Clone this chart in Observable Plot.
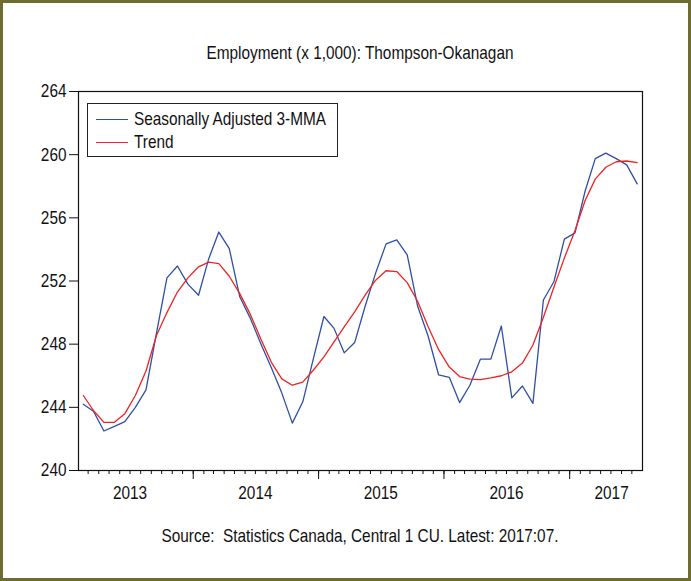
<!DOCTYPE html>
<html>
<head>
<meta charset="utf-8">
<script src="https://cdn.jsdelivr.net/npm/d3@7"></script>
<script src="https://cdn.jsdelivr.net/npm/@observablehq/plot@0.6"></script>
<style>
  html, body { margin: 0; padding: 0; background: #fff; }
  #wrap { position: relative; width: 691px; height: 581px; background: #fff; overflow: hidden;
          font-family: "Liberation Sans", Arial, sans-serif; color: #111; }
  #border { position: absolute; left: 0; top: 0; width: 691px; height: 581px; box-sizing: border-box;
            border: 3px solid #6e6c31; pointer-events: none; }
  #title, #caption { position: absolute; left: 78px; width: 564px; text-align: center; font-size: 18.5px; line-height: 22px;
                     white-space: nowrap; transform: scaleX(0.83); transform-origin: 50% 50%; }
  #title { top: 42px; }
  #caption { top: 525px; }
  #chart { position: absolute; left: 0; top: 70px; }
  #legend { position: absolute; left: 87px; top: 103px; width: 251px; height: 54px; box-sizing: border-box;
            border: 1px solid #222; background: #fff; }
  .item { position: absolute; left: 0; height: 22px; font-size: 18.5px; line-height: 22px; white-space: nowrap; }
  .swatch { position: absolute; left: 8px; width: 32px; height: 0; border-top: 1.3px solid; }
  .label { position: absolute; left: 46px; top: 0; transform: scaleX(0.83); transform-origin: 0 50%; }
</style>
</head>
<body>
<div id="wrap">
  <div id="title">Employment (x 1,000): Thompson-Okanagan</div>
  <div id="chart"></div>
  <div id="legend"></div>
  <div id="caption">Source:&nbsp; Statistics Canada, Central 1 CU. Latest: 2017:07.</div>
  <div id="border"></div>
</div>
<script>
// ---- data (monthly, 2013:02 to 2017:07) ----
const firstMonth = "2013-02-01";
const endMonth = "2017-08-01";
const seasonallyAdjusted3MMA = [
  244.2, 243.75, 242.5, 242.8, 243.1, 244.0, 245.1, 248.7, 252.2, 252.95, 251.8,
  251.1, 253.4, 255.1, 254.05, 251.0, 249.65, 248.05, 246.5, 244.9, 243.0, 244.35,
  247.05, 249.75, 249.0, 247.45, 248.1, 250.4, 252.5, 254.35, 254.6, 253.65, 250.4,
  248.5, 246.05, 245.9, 244.3, 245.4, 247.05, 247.05, 249.15, 244.6, 245.35, 244.25,
  250.8, 251.95, 254.65, 255.05, 257.7, 259.75, 260.1, 259.75, 259.35, 258.15
];
const trend = [
  244.75, 243.8, 243.05, 243.05, 243.6, 244.75, 246.3, 248.55, 250.0, 251.3, 252.2,
  252.9, 253.2, 253.1, 252.3, 251.2, 249.9, 248.35, 246.85, 245.8, 245.4, 245.6,
  246.35, 247.2, 248.15, 249.1, 250.05, 251.1, 252.05, 252.65, 252.6, 251.9, 250.7,
  249.1, 247.65, 246.55, 245.95, 245.78, 245.76, 245.87, 246.0, 246.25, 246.8, 247.95,
  249.7, 251.6, 253.45, 255.2, 257.1, 258.45, 259.2, 259.55, 259.6, 259.5
];
const yTicks = [240, 244, 248, 252, 256, 260, 264];
const yearLabels = ["2013", "2014", "2015", "2016", "2017"];
const yearLabelDates = ["2013-07-01", "2014-07-01", "2015-07-01", "2016-07-01", "2017-05-03"];
const seriesNames = ["Seasonally Adjusted 3-MMA", "Trend"];
const seriesColors = ["#2f4fa6", "#ee2424"];

// ---- build tables ----
const start = new Date(firstMonth + "T00:00:00Z");
const end = new Date(endMonth + "T00:00:00Z");
const months = d3.utcMonth.range(start, end);
const mid = m => new Date((+m + +d3.utcMonth.offset(m, 1)) / 2);
const rows = months.map((m, i) => ({date: mid(m), sa: seasonallyAdjusted3MMA[i], trend: trend[i]}));
const years = months.filter(m => m.getUTCMonth() === 0);
const labels = yearLabels.map((t, i) => ({t, date: new Date(yearLabelDates[i] + "T00:00:00Z")}));

const FONT = '"Liberation Sans", Arial, sans-serif';
const SQUEEZE = 0.83;

const chart = Plot.plot({
  width: 691,
  height: 440,
  marginLeft: 78,
  marginRight: 49,
  marginTop: 21,
  marginBottom: 40,
  style: {fontFamily: FONT, fontSize: "18.5px", color: "#111", background: "transparent", overflow: "visible"},
  x: {type: "utc", domain: [start, end], axis: null},
  y: {domain: [240, 264], ticks: yTicks, tickSize: 9, tickPadding: 3, label: null, tickFormat: d => String(d)},
  marks: [
    Plot.ruleX(months.slice(1), {x: d => d, y1: 240, y2: 240, insetBottom: -4, stroke: "#111", strokeWidth: 1}),
    Plot.ruleX(years, {x: d => d, y1: 240, y2: 240, insetBottom: -9, stroke: "#111", strokeWidth: 1}),
    Plot.text(labels, {x: "date", y: 240, dy: 23, text: "t", fontSize: 18.5, fill: "#111"}),
    Plot.line(rows, {x: "date", y: "sa", stroke: seriesColors[0], strokeWidth: 1.3}),
    Plot.line(rows, {x: "date", y: "trend", stroke: seriesColors[1], strokeWidth: 1.3}),
    Plot.frame({stroke: "#111", strokeWidth: 1.2})
  ]
});
document.getElementById("chart").appendChild(chart);

// narrow the glyphs like the original condensed typeface
chart.querySelectorAll("text").forEach(t => {
  const L = t.getComputedTextLength();
  if (L > 0) {
    t.setAttribute("textLength", (L * SQUEEZE).toFixed(2));
    t.setAttribute("lengthAdjust", "spacingAndGlyphs");
  }
});

// ---- legend ----
const legend = document.getElementById("legend");
seriesNames.forEach((name, i) => {
  const item = document.createElement("div");
  item.className = "item";
  item.style.top = (4 + i * 23) + "px";
  const sw = document.createElement("div");
  sw.className = "swatch";
  sw.style.top = "11px";
  sw.style.borderTopColor = seriesColors[i];
  const lb = document.createElement("div");
  lb.className = "label";
  lb.textContent = name;
  item.appendChild(sw);
  item.appendChild(lb);
  legend.appendChild(item);
});
</script>
</body>
</html>
